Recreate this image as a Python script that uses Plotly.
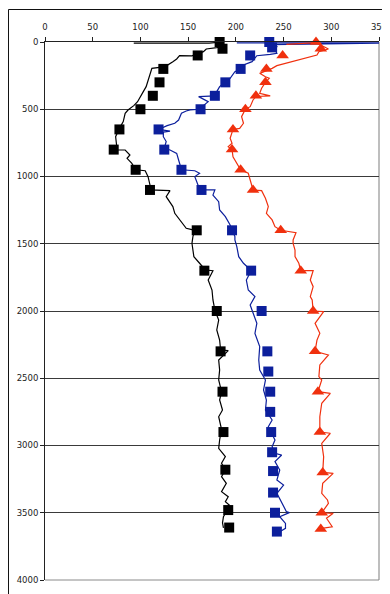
import plotly.graph_objects as go

# ---------------- data ----------------
# Measured points (markers)
black_pts_depth = [0, 50, 100, 200, 300, 400, 500, 650, 800, 950, 1100, 1400, 1700, 2000, 2300, 2600, 2900, 3180, 3480, 3610]
black_pts_val = [183, 186, 160, 124, 120, 113, 100, 78, 72, 95, 110, 159, 167, 180, 184, 186, 187, 189, 192, 193]

blue_pts_depth = [0, 40, 100, 200, 300, 400, 500, 650, 800, 950, 1100, 1400, 1700, 2000, 2300, 2450, 2600, 2750, 2900, 3050, 3190, 3350, 3500, 3640]
blue_pts_val = [235, 238, 215, 205, 189, 178, 163, 119, 125, 143, 164, 196, 216, 227, 233, 234, 236, 236, 237, 238, 239, 239, 241, 243]

red_pts_depth = [0, 50, 100, 200, 300, 400, 500, 650, 800, 950, 1100, 1400, 1700, 2000, 2300, 2600, 2900, 3200, 3500, 3620]
red_pts_val = [284, 289, 249, 232, 231, 221, 210, 197, 196, 205, 218, 247, 268, 281, 283, 286, 288, 291, 290, 289]

# Continuous profiles (lines)
black_line_depth = [8, 8, 2, 35, 42, 52, 72, 85, 103, 102, 126, 146, 183, 196, 245, 295, 332, 369, 414, 444, 473, 506, 530, 592,
                    642, 704, 766, 803, 803, 840, 865, 902, 950, 957, 1001, 1063, 1100, 1105, 1150, 1224, 1274, 1323, 1385,
                    1400, 1447, 1497, 1547, 1596, 1645, 1695, 1700, 1770, 1844, 1918, 1993, 2067, 2141, 2216, 2290, 2295,
                    2364, 2439, 2513, 2600, 2662, 2736, 2786, 2880, 2959, 3021, 3083, 3132, 3180, 3232, 3281, 3343, 3381,
                    3418, 3442, 3480, 3529, 3575, 3613]
black_line_val = [93, 172, 183, 185, 180, 169, 166, 160, 154, 141, 138, 134, 126, 112, 110, 108, 106, 103, 99, 97, 93, 87, 84, 82,
                  78, 74, 75, 72, 84, 89, 86, 91, 95, 105, 108, 110, 110, 131, 127, 134, 136, 141, 148,
                  157, 155, 154, 155, 156, 162, 168, 176, 171, 175, 176, 178, 182, 180, 183, 184, 192,
                  182, 183, 182, 185, 183, 186, 182, 185, 183, 182, 189, 185, 189, 185, 190, 185, 192,
                  189, 193, 191, 187, 186, 187]

blue_line_depth = [7, 7, 20, 35, 59, 84, 92, 102, 146, 171, 200, 221, 270, 300, 332, 369, 400, 406, 444, 473, 500, 505, 513, 530,
                   580, 604, 622, 650, 655, 662, 670, 704, 740, 790, 803, 828, 877, 950, 957, 976, 1001, 1076, 1100, 1100,
                   1138, 1187, 1249, 1299, 1361, 1400, 1447, 1472, 1522, 1596, 1645, 1700, 1770, 1844, 1893, 1955, 2017,
                   2092, 2166, 2265, 2364, 2439, 2513, 2587, 2662, 2736, 2810, 2860, 2959, 3009, 3058, 3071, 3120, 3182,
                   3257, 3294, 3356, 3430, 3492, 3499, 3529, 3579, 3616, 3641]
blue_line_val = [201, 360, 236, 243, 241, 243, 236, 222, 217, 208, 205, 199, 194, 189, 183, 180, 178, 161, 171, 166, 162, 152, 148, 143,
                 140, 136, 128, 119, 124, 131, 124, 124, 127, 125, 131, 138, 140, 143, 157, 162, 157, 161, 164, 178,
                 176, 182, 183, 189, 194, 196, 199, 199, 201, 203, 208, 216, 211, 213, 220, 215, 218,
                 222, 220, 225, 224, 225, 231, 229, 232, 231, 238, 234, 241, 238, 241, 248, 241, 246,
                 243, 250, 243, 248, 253, 256, 246, 252, 252, 246]

red_line_depth = [17, 10, 5, 52, 72, 97, 134, 176, 196, 233, 258, 270, 300, 344, 381, 401, 405, 431, 481, 500, 555, 604, 642, 650,
                  716, 753, 778, 800, 853, 927, 950, 976, 1026, 1100, 1105, 1162, 1224, 1274, 1323, 1373, 1400, 1418, 1472,
                  1497, 1547, 1596, 1645, 1700, 1700, 1770, 1819, 1893, 1918, 2000, 2005, 2092, 2166, 2216, 2300, 2327,
                  2401, 2488, 2513, 2600, 2612, 2686, 2786, 2900, 2909, 2984, 3083, 3200, 3207, 3281, 3356, 3405, 3430,
                  3500, 3504, 3541, 3604, 3616]
red_line_val = [253, 271, 284, 297, 287, 285, 264, 243, 238, 225, 231, 235, 231, 227, 225, 236, 221, 218, 215, 210, 206, 208, 204, 197,
                194, 196, 192, 196, 197, 203, 205, 213, 215, 218, 227, 231, 234, 232, 238, 241, 247, 263, 260,
                260, 262, 262, 266, 268, 281, 278, 281, 278, 280, 281, 292, 283, 288, 285, 283, 297,
                288, 287, 290, 286, 299, 290, 288, 288, 299, 290, 292, 291, 302, 291, 290, 296, 297,
                290, 302, 295, 301, 290]

x_ticks = [0, 50, 100, 150, 200, 250, 300, 350]
y_ticks = [0, 500, 1000, 1500, 2000, 2500, 3000, 3500, 4000]

BLACK = "#000000"
BLUE = "#0c1f9c"
RED = "#f0300e"

fig = go.Figure()

fig.add_trace(go.Scatter(x=black_line_val, y=black_line_depth, mode="lines",
                         line=dict(color=BLACK, width=1.2), showlegend=False, hoverinfo="skip"))
fig.add_trace(go.Scatter(x=blue_line_val, y=blue_line_depth, mode="lines",
                         line=dict(color=BLUE, width=1.2), showlegend=False, hoverinfo="skip"))
fig.add_trace(go.Scatter(x=red_line_val, y=red_line_depth, mode="lines",
                         line=dict(color=RED, width=1.2), showlegend=False, hoverinfo="skip"))

fig.add_trace(go.Scatter(x=black_pts_val, y=black_pts_depth, mode="markers",
                         marker=dict(symbol="square", size=10, color=BLACK), showlegend=False, cliponaxis=False))
fig.add_trace(go.Scatter(x=blue_pts_val, y=blue_pts_depth, mode="markers",
                         marker=dict(symbol="square", size=10, color=BLUE), showlegend=False, cliponaxis=False))
fig.add_trace(go.Scatter(x=red_pts_val, y=red_pts_depth, mode="markers",
                         marker=dict(symbol="triangle-up", size=11, color=RED), showlegend=False, cliponaxis=False))

font = dict(family="DejaVu Sans", size=8.5, color="#222222")

# The page body adds an 8px offset, so the figure is sized to fit the 390x594 window.
fig.update_layout(
    width=382, height=586,
    margin=dict(l=37, r=11, t=34, b=14, autoexpand=False),
    paper_bgcolor="white", plot_bgcolor="white",
    font=font,
    xaxis=dict(side="top", range=[0, 350], tickvals=x_ticks, showgrid=False, zeroline=False,
               automargin=False,
               showline=True, linecolor="#222222", linewidth=1,
               ticks="outside", ticklen=4, tickcolor="#222222", ticklabelstandoff=4,
               tickfont=font),
    yaxis=dict(range=[4000, 0], tickvals=y_ticks, showgrid=True, gridcolor="#3a3a3a", gridwidth=1,
               automargin=False,
               zeroline=False, showline=True, linecolor="#222222", linewidth=1,
               ticks="outside", ticklen=4, tickcolor="#222222", tickfont=font),
    shapes=[
        # plot area border (right / bottom)
        dict(type="line", xref="paper", yref="paper", x0=1, x1=1, y0=0, y1=1,
             line=dict(color="#a8a8a8", width=1.5), layer="below"),
        dict(type="line", xref="paper", yref="paper", x0=0, x1=1, y0=0, y1=0,
             line=dict(color="#8a8a8a", width=1), layer="below"),
        # outer chart frame
        dict(type="rect", xref="paper", yref="paper", x0=-0.1093, x1=1.027, y0=-0.05, y1=1.0604,
             line=dict(color="#111111", width=1), layer="below"),
    ],
)

fig.write_html("out.html")
